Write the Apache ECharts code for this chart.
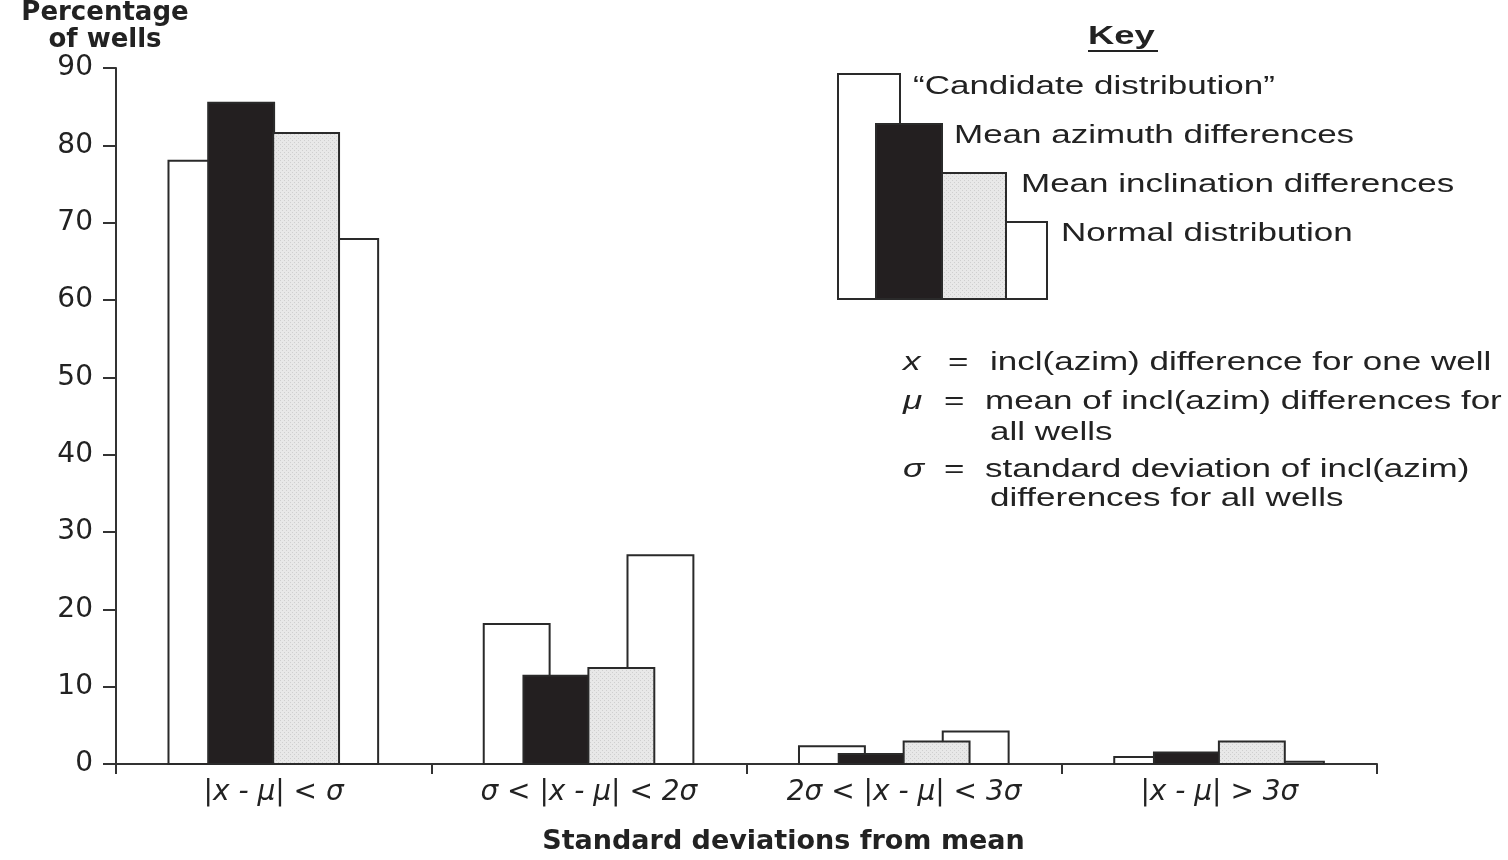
<!DOCTYPE html>
<html>
<head>
<meta charset="utf-8">
<script src="https://cdn.jsdelivr.net/npm/echarts@6/dist/echarts.min.js"></script>
<style>
html,body{margin:0;padding:0;background:#fff;}
#chart{width:1508px;height:860px;}
</style>
</head>
<body>
<div id="chart"></div>
<script>
// ---- data ----
const categories = ['|x - μ| < σ', 'σ < |x - μ| < 2σ', '2σ < |x - μ| < 3σ', '|x - μ| > 3σ'];
const candidateDist = [78.0, 18.1, 2.3, 0.9];
const meanAzimuth = [85.5, 11.4, 1.3, 1.5];
const meanInclination = [81.6, 12.4, 2.9, 2.9];
const normalDist = [67.9, 27.0, 4.2, 0.3];
const yTicks = { min: 0, max: 90, interval: 10 };
const legendLabels = ['“Candidate distribution”', 'Mean azimuth differences', 'Mean inclination differences', 'Normal distribution'];

const INK = '#222';
const WHITE = '#ffffff';
const BLACK = '#231f20';

// light grey stippled fill for the inclination bars
const pat = document.createElement('canvas');
pat.width = 4; pat.height = 4;
(function () {
  const c = pat.getContext('2d');
  c.fillStyle = '#e8e8e8'; c.fillRect(0, 0, 4, 4);
  c.fillStyle = '#cfcfcf'; c.fillRect(0, 0, 1, 1); c.fillRect(2, 2, 1, 1);
})();
const GREY = { image: pat, repeat: 'repeat' };

function makeRender(offsetFrac, widthFrac, fill) {
  return function (params, api) {
    const cat = api.value(0);
    const val = api.value(1);
    const top = api.coord([cat, val]);
    const base = api.coord([cat, 0]);
    const band = api.size([1, 0])[0];
    const w = band * widthFrac;
    const cx = top[0] + band * offsetFrac;
    return {
      type: 'rect',
      shape: { x: cx - w / 2, y: top[1], width: w, height: base[1] - top[1] },
      style: { fill: fill, stroke: '#2a2a2a', lineWidth: 2 }
    };
  };
}
const toData = arr => arr.map((v, i) => [i, v]);

const W = 0.209;
const series = [
  { name: legendLabels[0], type: 'custom', renderItem: makeRender(-0.229, W, WHITE), data: toData(candidateDist), z: 2 },
  { name: legendLabels[3], type: 'custom', renderItem: makeRender(0.227, W, WHITE), data: toData(normalDist), z: 2 },
  { name: legendLabels[1], type: 'custom', renderItem: makeRender(-0.103, W, BLACK), data: toData(meanAzimuth), z: 3 },
  { name: legendLabels[2], type: 'custom', renderItem: makeRender(0.103, W, GREY), data: toData(meanInclination), z: 3 }
];

const SX = 1.4;
const FONT = '"Liberation Sans", Arial, sans-serif';
function txt(x, y, text, opts) {
  opts = opts || {};
  return {
    type: 'text', x: x, y: y, scaleX: SX, originX: 0, originY: 0, z: 10,
    style: {
      text: text, x: 0, y: 0, fill: INK,
      font: (opts.italic ? 'italic ' : '') + (opts.bold ? 'bold ' : '') + (opts.size || 25) + 'px ' + FONT,
      textVerticalAlign: 'middle', textAlign: 'left'
    }
  };
}
const keyStroke = { stroke: '#2a2a2a', lineWidth: 2 };
const graphic = [
  txt(1088, 37, 'Key', { bold: true, size: 26 }),
  { type: 'line', shape: { x1: 1088, y1: 51, x2: 1158, y2: 51 }, style: { stroke: INK, lineWidth: 2 }, z: 10 },
  { type: 'rect', shape: { x: 838, y: 74, width: 62, height: 225 }, style: Object.assign({ fill: WHITE }, keyStroke), z: 5 },
  { type: 'rect', shape: { x: 985, y: 222, width: 62, height: 77 }, style: Object.assign({ fill: WHITE }, keyStroke), z: 5 },
  { type: 'rect', shape: { x: 876, y: 124, width: 66, height: 175 }, style: Object.assign({ fill: BLACK }, keyStroke), z: 6 },
  { type: 'rect', shape: { x: 942, y: 173, width: 64, height: 126 }, style: Object.assign({ fill: GREY }, keyStroke), z: 6 },
  txt(913, 87, legendLabels[0]),
  txt(954, 136, legendLabels[1]),
  txt(1021, 185, legendLabels[2]),
  txt(1061, 234, legendLabels[3]),
  txt(903, 363, 'x', { italic: true }),
  txt(948, 363, '='),
  txt(990, 363, 'incl(azim) difference for one well'),
  txt(903, 402, 'μ', { italic: true }),
  txt(944, 402, '='),
  txt(985, 402, 'mean of incl(azim) differences for'),
  txt(990, 433, 'all wells'),
  txt(903, 470, 'σ', { italic: true }),
  txt(944, 470, '='),
  txt(985, 470, 'standard deviation of incl(azim)'),
  txt(990, 499, 'differences for all wells')
];

const chart = echarts.init(document.getElementById('chart'));
chart.setOption({
  backgroundColor: '#fff',
  animation: false,
  grid: { left: 116, right: 131, top: 68, bottom: 90 },
  xAxis: {
    type: 'category',
    data: categories,
    boundaryGap: true,
    name: 'Standard deviations from mean',
    nameLocation: 'middle',
    nameGap: 64,
    nameTextStyle: { fontFamily: 'DejaVu Sans', fontWeight: 'bold', fontSize: 27, color: INK, padding: [0, 0, 0, 74] },
    axisLine: { lineStyle: { color: '#333', width: 2 } },
    axisTick: { show: true, length: 10, alignWithLabel: false, lineStyle: { color: '#333', width: 2 } },
    axisLabel: { fontFamily: 'DejaVu Sans', fontStyle: 'italic', fontSize: 28, color: INK, margin: 15, interval: 0 },
    splitLine: { show: false }
  },
  yAxis: {
    type: 'value',
    min: yTicks.min, max: yTicks.max, interval: yTicks.interval,
    name: 'Percentage\nof wells',
    nameLocation: 'end',
    nameGap: 4,
    nameTextStyle: { fontFamily: 'DejaVu Sans', fontWeight: 'bold', fontSize: 26, lineHeight: 27, color: INK, align: 'center', padding: [0, 22, 0, 0] },
    axisLine: { show: true, lineStyle: { color: '#333', width: 2 } },
    axisTick: { show: true, length: 13, lineStyle: { color: '#333', width: 2 } },
    axisLabel: { fontFamily: 'DejaVu Sans', fontSize: 28, color: INK, margin: 23 },
    splitLine: { show: false }
  },
  series: series,
  graphic: graphic
});
</script>
</body>
</html>
